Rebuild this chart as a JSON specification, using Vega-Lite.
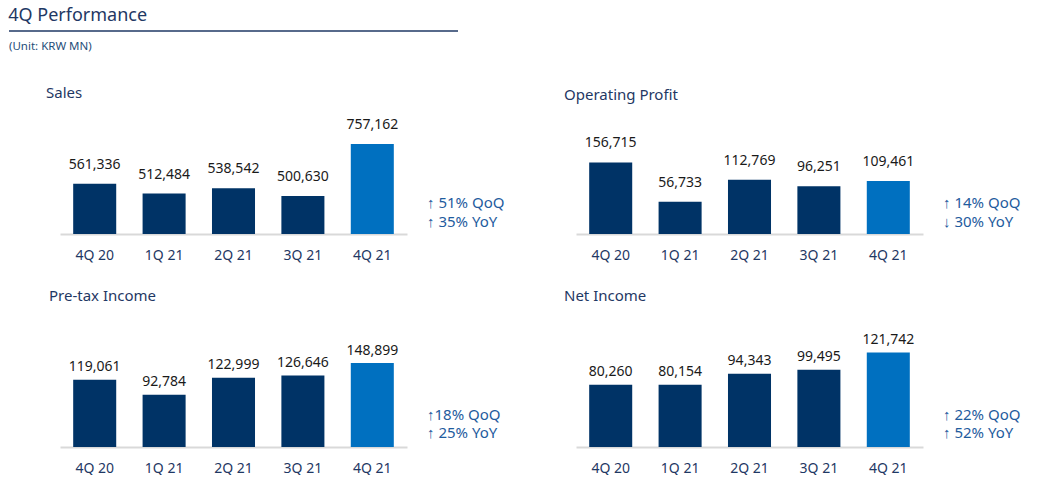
{
  "$schema": "https://vega.github.io/schema/vega-lite/v6.json",
  "padding": {"left": 8, "top": 7, "right": 0, "bottom": 0},
  "background": "white",
  "config": {
    "view": {"stroke": null},
    "font": "Noto Sans",
    "axisX": {"title": null, "ticks": false, "grid": false, "labelAngle": 0, "labelFontSize": 14, "labelColor": "#1f3864", "labelFont": "Noto Sans", "labelPadding": 14, "domainColor": "#d9d9d9", "domainWidth": 2},
    "title": {"anchor": "start", "fontWeight": "normal", "color": "#1f3864", "font": "Noto Sans", "baseline": "alphabetic"}
  },
  "datasets": {
    "perf": [
      {"metric": "Sales", "quarter": "4Q 20", "value": 561336},
      {"metric": "Sales", "quarter": "1Q 21", "value": 512484},
      {"metric": "Sales", "quarter": "2Q 21", "value": 538542},
      {"metric": "Sales", "quarter": "3Q 21", "value": 500630},
      {"metric": "Sales", "quarter": "4Q 21", "value": 757162},
      {"metric": "Operating Profit", "quarter": "4Q 20", "value": 156715},
      {"metric": "Operating Profit", "quarter": "1Q 21", "value": 56733},
      {"metric": "Operating Profit", "quarter": "2Q 21", "value": 112769},
      {"metric": "Operating Profit", "quarter": "3Q 21", "value": 96251},
      {"metric": "Operating Profit", "quarter": "4Q 21", "value": 109461},
      {"metric": "Pre-tax Income", "quarter": "4Q 20", "value": 119061},
      {"metric": "Pre-tax Income", "quarter": "1Q 21", "value": 92784},
      {"metric": "Pre-tax Income", "quarter": "2Q 21", "value": 122999},
      {"metric": "Pre-tax Income", "quarter": "3Q 21", "value": 126646},
      {"metric": "Pre-tax Income", "quarter": "4Q 21", "value": 148899},
      {"metric": "Net Income", "quarter": "4Q 20", "value": 80260},
      {"metric": "Net Income", "quarter": "1Q 21", "value": 80154},
      {"metric": "Net Income", "quarter": "2Q 21", "value": 94343},
      {"metric": "Net Income", "quarter": "3Q 21", "value": 99495},
      {"metric": "Net Income", "quarter": "4Q 21", "value": 121742}
    ],
    "notes": [
      {"metric": "Sales", "line": 1, "text": "↑ 51% QoQ"},
      {"metric": "Sales", "line": 2, "text": "↑ 35% YoY"},
      {"metric": "Operating Profit", "line": 1, "text": "↑ 14% QoQ"},
      {"metric": "Operating Profit", "line": 2, "text": "↓ 30% YoY"},
      {"metric": "Pre-tax Income", "line": 1, "text": "↑18% QoQ"},
      {"metric": "Pre-tax Income", "line": 2, "text": "↑ 25% YoY"},
      {"metric": "Net Income", "line": 1, "text": "↑ 22% QoQ"},
      {"metric": "Net Income", "line": 2, "text": "↑ 52% YoY"}
    ],
    "header": [{"label": "(Unit: KRW MN)"}]
  },
  "spacing": 27,
  "vconcat": [
    {
      "width": 449,
      "height": 26.4,
      "title": {"text": "4Q Performance", "fontSize": 18, "offset": 5},
      "data": {"name": "header"},
      "layer": [
        {
          "mark": {"type": "rule", "color": "#1f3864", "strokeWidth": 1.5},
          "encoding": {
            "x": {"datum": 0, "type": "quantitative", "scale": {"domain": [0, 1], "nice": false}, "axis": null},
            "x2": {"datum": 1},
            "y": {"datum": 1, "type": "quantitative", "scale": {"domain": [0, 1], "nice": false}, "axis": null}
          }
        },
        {
          "mark": {"type": "text", "align": "left", "baseline": "alphabetic", "fontSize": 11.5, "color": "#1f4e79"},
          "encoding": {
            "x": {"datum": 0, "type": "quantitative"},
            "y": {"datum": 0.28, "type": "quantitative"},
            "text": {"field": "label"}
          }
        }
      ]
    },
    {
      "bounds": "flush",
      "spacing": 20,
      "hconcat": [
        {"width": 31, "height": 114, "data": {"values": []}, "mark": "text", "encoding": {}},
        {
          "width": 347, "height": 114,
          "title": {"text": "Sales", "fontSize": 15, "dx": -14, "offset": 17.4},
          "data": {"name": "perf"},
          "transform": [{"filter": "datum.metric === 'Sales'"}],
          "encoding": {
            "x": {"field": "quarter", "type": "nominal", "sort": null, "scale": {"paddingInner": 0.38, "paddingOuter": 0.19}},
            "y": {"field": "value", "type": "quantitative", "scale": {"domain": [313000, 875400], "zero": false, "nice": false}, "axis": null}
          },
          "layer": [
            {"mark": {"type": "bar", "clip": true}, "encoding": {"y2": {"datum": 313000}, "color": {"condition": {"test": "datum.quarter === '4Q 21'", "value": "#0070c0"}, "value": "#003366"}}},
            {"mark": {"type": "text", "baseline": "alphabetic", "dy": -15, "fontSize": 14, "color": "#1a1a1a"}, "encoding": {"text": {"field": "value", "type": "quantitative", "format": ","}}}
          ]
        },
        {
          "width": 129, "height": 114,
          "data": {"name": "notes"},
          "transform": [{"filter": "datum.metric === 'Sales'"}],
          "mark": {"type": "text", "align": "left", "baseline": "middle", "fontSize": 15, "color": "#1f5c9e"},
          "encoding": {
            "x": {"datum": 0, "type": "quantitative", "scale": {"domain": [0, 1], "nice": false}, "axis": null},
            "y": {"field": "line", "type": "quantitative", "scale": {"domain": [-3.368, 2.632], "reverse": true, "nice": false, "zero": false}, "axis": null},
            "text": {"field": "text"}
          }
        },
        {
          "width": 347, "height": 114,
          "title": {"text": "Operating Profit", "fontSize": 15, "dx": -12, "offset": 17.4},
          "data": {"name": "perf"},
          "transform": [{"filter": "datum.metric === 'Operating Profit'"}],
          "encoding": {
            "x": {"field": "quarter", "type": "nominal", "sort": null, "scale": {"paddingInner": 0.38, "paddingOuter": 0.19}},
            "y": {"field": "value", "type": "quantitative", "scale": {"domain": [-25000, 264300], "zero": false, "nice": false}, "axis": null}
          },
          "layer": [
            {"mark": {"type": "bar", "clip": true}, "encoding": {"y2": {"datum": -25000}, "color": {"condition": {"test": "datum.quarter === '4Q 21'", "value": "#0070c0"}, "value": "#003366"}}},
            {"mark": {"type": "text", "baseline": "alphabetic", "dy": -15, "fontSize": 14, "color": "#1a1a1a"}, "encoding": {"text": {"field": "value", "type": "quantitative", "format": ","}}}
          ]
        },
        {
          "width": 90, "height": 114,
          "data": {"name": "notes"},
          "transform": [{"filter": "datum.metric === 'Operating Profit'"}],
          "mark": {"type": "text", "align": "left", "baseline": "middle", "fontSize": 15, "color": "#1f5c9e"},
          "encoding": {
            "x": {"datum": 0, "type": "quantitative", "scale": {"domain": [0, 1], "nice": false}, "axis": null},
            "y": {"field": "line", "type": "quantitative", "scale": {"domain": [-3.368, 2.632], "reverse": true, "nice": false, "zero": false}, "axis": null},
            "text": {"field": "text"}
          }
        }
      ]
    },
    {
      "bounds": "flush",
      "spacing": 20,
      "hconcat": [
        {"width": 31, "height": 138, "data": {"values": []}, "mark": "text", "encoding": {}},
        {
          "width": 347, "height": 138,
          "title": {"text": "Pre-tax Income", "fontSize": 15, "dx": -11, "offset": 5},
          "data": {"name": "perf"},
          "transform": [{"filter": "datum.metric === 'Pre-tax Income'"}],
          "encoding": {
            "x": {"field": "quarter", "type": "nominal", "sort": null, "scale": {"paddingInner": 0.38, "paddingOuter": 0.19}},
            "y": {"field": "value", "type": "quantitative", "scale": {"domain": [0, 244700], "nice": false}, "axis": null}
          },
          "layer": [
            {"mark": {"type": "bar", "clip": true}, "encoding": {"y2": {"datum": 0}, "color": {"condition": {"test": "datum.quarter === '4Q 21'", "value": "#0070c0"}, "value": "#003366"}}},
            {"mark": {"type": "text", "baseline": "alphabetic", "dy": -8.5, "fontSize": 14, "color": "#1a1a1a"}, "encoding": {"text": {"field": "value", "type": "quantitative", "format": ","}}}
          ]
        },
        {
          "width": 129, "height": 138,
          "data": {"name": "notes"},
          "transform": [{"filter": "datum.metric === 'Pre-tax Income'"}],
          "mark": {"type": "text", "align": "left", "baseline": "middle", "fontSize": 15, "color": "#1f5c9e"},
          "encoding": {
            "x": {"datum": 0, "type": "quantitative", "scale": {"domain": [0, 1], "nice": false}, "axis": null},
            "y": {"field": "line", "type": "quantitative", "scale": {"domain": [-4.889, 2.778], "reverse": true, "nice": false, "zero": false}, "axis": null},
            "text": {"field": "text"}
          }
        },
        {
          "width": 347, "height": 138,
          "title": {"text": "Net Income", "fontSize": 15, "dx": -12, "offset": 5},
          "data": {"name": "perf"},
          "transform": [{"filter": "datum.metric === 'Net Income'"}],
          "encoding": {
            "x": {"field": "quarter", "type": "nominal", "sort": null, "scale": {"paddingInner": 0.38, "paddingOuter": 0.19}},
            "y": {"field": "value", "type": "quantitative", "scale": {"domain": [0, 177800], "nice": false}, "axis": null}
          },
          "layer": [
            {"mark": {"type": "bar", "clip": true}, "encoding": {"y2": {"datum": 0}, "color": {"condition": {"test": "datum.quarter === '4Q 21'", "value": "#0070c0"}, "value": "#003366"}}},
            {"mark": {"type": "text", "baseline": "alphabetic", "dy": -8.5, "fontSize": 14, "color": "#1a1a1a"}, "encoding": {"text": {"field": "value", "type": "quantitative", "format": ","}}}
          ]
        },
        {
          "width": 90, "height": 138,
          "data": {"name": "notes"},
          "transform": [{"filter": "datum.metric === 'Net Income'"}],
          "mark": {"type": "text", "align": "left", "baseline": "middle", "fontSize": 15, "color": "#1f5c9e"},
          "encoding": {
            "x": {"datum": 0, "type": "quantitative", "scale": {"domain": [0, 1], "nice": false}, "axis": null},
            "y": {"field": "line", "type": "quantitative", "scale": {"domain": [-4.889, 2.778], "reverse": true, "nice": false, "zero": false}, "axis": null},
            "text": {"field": "text"}
          }
        }
      ]
    }
  ]
}
